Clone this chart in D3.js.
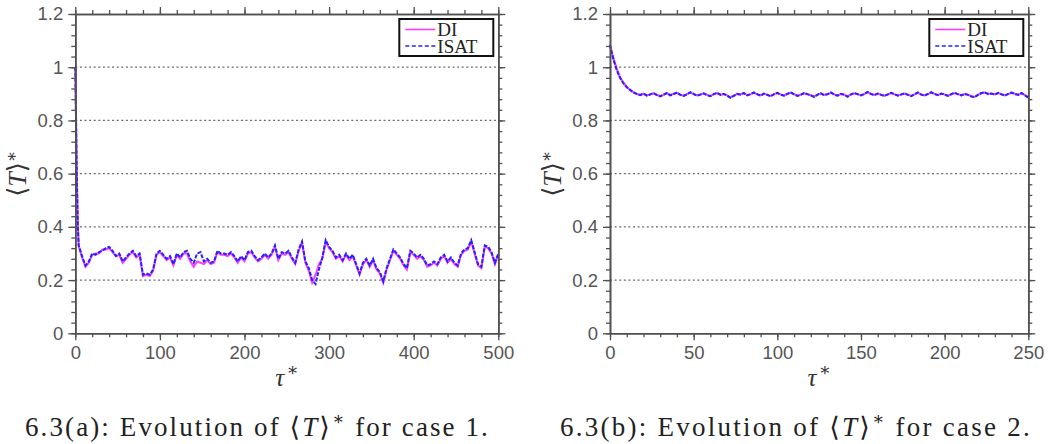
<!DOCTYPE html>
<html>
<head>
<meta charset="utf-8">
<script src="https://cdn.jsdelivr.net/npm/d3@7"></script>
<style>
  body { margin: 0; background: #fff; }
  svg { display: block; }
</style>
</head>
<body>
<div id="chart"></div>
<script>
// case 1: tau* 0..500, steep start then every 4
const tau1Start = [0, 1, 2, 3];
const tau1Step = 4;
const isat1 = [
  1.0, 0.78, 0.55, 0.40,
  0.33, 0.29, 0.255, 0.27, 0.30, 0.295, 0.305, 0.31, 0.32, 0.325,
  0.31, 0.29, 0.30, 0.27, 0.285, 0.30, 0.31, 0.29, 0.30, 0.22,
  0.225, 0.22, 0.24, 0.30, 0.31, 0.295, 0.28, 0.29, 0.26, 0.30,
  0.285, 0.305, 0.31, 0.28, 0.265, 0.30, 0.305, 0.27, 0.28, 0.265,
  0.27, 0.31, 0.30, 0.30, 0.295, 0.305, 0.29, 0.27, 0.29, 0.275,
  0.305, 0.31, 0.29, 0.275, 0.285, 0.30, 0.285, 0.30, 0.33, 0.28,
  0.305, 0.30, 0.31, 0.285, 0.265, 0.315, 0.345, 0.27, 0.245, 0.20,
  0.185, 0.24, 0.285, 0.35, 0.325, 0.31, 0.285, 0.295, 0.275, 0.30,
  0.28, 0.295, 0.26, 0.225, 0.265, 0.28, 0.255, 0.28, 0.245, 0.23,
  0.195, 0.245, 0.28, 0.315, 0.30, 0.285, 0.26, 0.245, 0.31, 0.30,
  0.285, 0.295, 0.28, 0.255, 0.26, 0.27, 0.26, 0.285, 0.295, 0.27,
  0.285, 0.265, 0.255, 0.30, 0.315, 0.32, 0.35, 0.305, 0.26, 0.25,
  0.33, 0.325, 0.305, 0.265, 0.30
];
const di1 = [
  1.0, 0.77, 0.56, 0.41,
  0.33, 0.285, 0.25, 0.265, 0.295, 0.30, 0.30, 0.315, 0.315, 0.32,
  0.305, 0.29, 0.295, 0.265, 0.28, 0.295, 0.305, 0.285, 0.295, 0.215,
  0.22, 0.215, 0.235, 0.295, 0.305, 0.29, 0.275, 0.285, 0.255, 0.295,
  0.28, 0.30, 0.30, 0.27, 0.25, 0.27, 0.265, 0.26, 0.275, 0.26,
  0.265, 0.305, 0.295, 0.295, 0.29, 0.30, 0.285, 0.265, 0.285, 0.27,
  0.30, 0.305, 0.285, 0.27, 0.28, 0.295, 0.28, 0.295, 0.325, 0.275,
  0.30, 0.295, 0.305, 0.28, 0.26, 0.31, 0.34, 0.265, 0.235, 0.19,
  0.22, 0.26, 0.28, 0.345, 0.32, 0.305, 0.28, 0.29, 0.27, 0.295,
  0.275, 0.29, 0.255, 0.22, 0.26, 0.275, 0.25, 0.275, 0.24, 0.225,
  0.19, 0.24, 0.275, 0.31, 0.295, 0.28, 0.255, 0.24, 0.305, 0.295,
  0.28, 0.29, 0.275, 0.25, 0.255, 0.265, 0.255, 0.28, 0.29, 0.265,
  0.28, 0.26, 0.25, 0.295, 0.31, 0.315, 0.345, 0.30, 0.255, 0.245,
  0.325, 0.32, 0.30, 0.26, 0.295
];

// case 2: tau* 0..250 every 2
const tau2Step = 2;
const isat2 = [
  1.085, 1.03, 0.99, 0.96, 0.94, 0.925, 0.915, 0.905, 0.90, 0.895,
  0.90, 0.893, 0.898, 0.902, 0.895, 0.89, 0.897, 0.903, 0.894, 0.899,
  0.905, 0.896, 0.892, 0.898, 0.906, 0.9, 0.893, 0.897, 0.902, 0.895,
  0.891, 0.899, 0.904, 0.896, 0.9, 0.893, 0.885, 0.892, 0.9, 0.897,
  0.903, 0.894, 0.898, 0.905, 0.899, 0.893, 0.901, 0.896, 0.89, 0.899,
  0.904, 0.897, 0.893, 0.9, 0.906, 0.898, 0.892, 0.896, 0.903, 0.899,
  0.894, 0.888, 0.897, 0.902, 0.895, 0.899, 0.905, 0.897, 0.893, 0.9,
  0.896, 0.889, 0.898, 0.903, 0.899, 0.894, 0.9, 0.907, 0.899, 0.895,
  0.901, 0.896, 0.892, 0.898, 0.904, 0.899, 0.893, 0.897, 0.902, 0.896,
  0.891, 0.899, 0.905, 0.897, 0.893, 0.9, 0.906, 0.899, 0.895, 0.901,
  0.897, 0.892, 0.899, 0.904, 0.898, 0.894, 0.9, 0.896, 0.89, 0.887,
  0.897, 0.903, 0.906, 0.899, 0.901, 0.897, 0.904, 0.898, 0.893, 0.9,
  0.905, 0.899, 0.896, 0.903, 0.894, 0.886
];
const di2 = [
  1.08, 1.035, 0.995, 0.962, 0.942, 0.926, 0.914, 0.906, 0.899, 0.897,
  0.901, 0.895, 0.897, 0.903, 0.896, 0.892, 0.896, 0.902, 0.896, 0.9,
  0.904, 0.897, 0.893, 0.899, 0.905, 0.899, 0.894, 0.898, 0.901, 0.896,
  0.892, 0.898, 0.903, 0.897, 0.899, 0.894, 0.887, 0.893, 0.899, 0.898,
  0.902, 0.895, 0.899, 0.904, 0.898, 0.894, 0.9, 0.897, 0.892, 0.898,
  0.903, 0.898, 0.894, 0.899, 0.905, 0.899, 0.893, 0.897, 0.902, 0.898,
  0.895, 0.89, 0.896, 0.901, 0.896, 0.898, 0.904, 0.898, 0.894, 0.899,
  0.897, 0.891, 0.897, 0.902, 0.898, 0.895, 0.899, 0.906, 0.9, 0.896,
  0.9, 0.897, 0.893, 0.897, 0.903, 0.898, 0.894, 0.898, 0.901, 0.897,
  0.892, 0.898, 0.904, 0.898, 0.894, 0.899, 0.905, 0.9, 0.896, 0.9,
  0.898, 0.893, 0.898, 0.903, 0.899, 0.895, 0.899, 0.897, 0.891, 0.889,
  0.896, 0.902, 0.905, 0.9, 0.9, 0.898, 0.903, 0.899, 0.894, 0.899,
  0.904, 0.9, 0.897, 0.902, 0.895, 0.888
];

const yTicks = [0, 0.2, 0.4, 0.6, 0.8, 1, 1.2];
const yGrid = [0.2, 0.4, 0.6, 0.8, 1];
const xTicks1 = [0, 100, 200, 300, 400, 500];
const xTicks2 = [0, 50, 100, 150, 200, 250];
const seriesNames = ["DI", "ISAT"];
const captions = [["6.3(a): Evolution of ", " for case 1."], ["6.3(b): Evolution of ", " for case 2."]];

const width = 1059, height = 444;
const plotTop = 14, plotBottom = 333.3;
const colorDI = "#ff3cff", colorISAT = "#2323ff", axisColor = "#505050";
const serif = "'Liberation Serif', 'DejaVu Serif', serif";

const svg = d3.select("#chart").append("svg").attr("width", width).attr("height", height)
  .style("background", "white");

const tau1 = tau1Start.concat(d3.range(tau1Step, 501, tau1Step));
const tau2 = d3.range(0, 251, tau2Step);

const panels = [
  {left: 75.3, right: 498.3, domain: [0, 500], ticks: xTicks1, minor: 20, tau: tau1, di: di1, isat: isat1, cap: captions[0], capX: 257.5, capW: 465},
  {left: 610, right: 1028.3, domain: [0, 250], ticks: xTicks2, minor: 10, tau: tau2, di: di2, isat: isat2, cap: captions[1], capX: 796, capW: 472}
];

const y = d3.scaleLinear().domain([0, 1.2]).range([plotBottom, plotTop]);

panels.forEach(p => {
  const x = d3.scaleLinear().domain(p.domain).range([p.left, p.right]);
  const g = svg.append("g");
  const minorX = d3.range(0, p.domain[1] + 0.001, p.minor);
  const minorY = d3.range(0, 1.2001, 0.04);

  // dotted grid
  g.append("g").selectAll("line").data(yGrid).join("line")
    .attr("x1", p.left).attr("x2", p.right)
    .attr("y1", d => y(d)).attr("y2", d => y(d))
    .attr("stroke", "#6a6a6a").attr("stroke-width", 1.3).attr("stroke-dasharray", "2,2.6");

  // lines
  const line = d3.line().x((d, i) => x(p.tau[i])).y(d => y(d));
  g.append("path").datum(p.di).attr("d", line)
    .attr("fill", "none").attr("stroke", colorDI).attr("stroke-width", 2);
  g.append("path").datum(p.isat).attr("d", line)
    .attr("fill", "none").attr("stroke", colorISAT).attr("stroke-width", 2).attr("stroke-dasharray", "4,1.5");

  // axes: majors with labels, minors without
  const styleAxis = sel => {
    sel.select(".domain").attr("stroke", axisColor).attr("stroke-width", 1.6);
    sel.selectAll(".tick line").attr("stroke", axisColor).attr("stroke-width", 1.3);
    sel.selectAll(".tick text").attr("fill", "#555").attr("font-size", "18.5px")
      .attr("font-family", "'Liberation Sans', Arial, sans-serif");
  };
  const fmt = d3.format("~g");
  g.append("g").attr("transform", `translate(0,${plotBottom})`)
    .call(d3.axisBottom(x).tickValues(p.ticks).tickSize(7).tickSizeOuter(0).tickPadding(6).tickFormat(fmt)).call(styleAxis);
  g.append("g").attr("transform", `translate(0,${plotBottom})`)
    .call(d3.axisBottom(x).tickValues(minorX).tickSize(4).tickSizeOuter(0).tickFormat("")).call(styleAxis);
  g.append("g").attr("transform", `translate(0,${plotTop})`)
    .call(d3.axisTop(x).tickValues(p.ticks).tickSize(7).tickSizeOuter(0).tickFormat("")).call(styleAxis);
  g.append("g").attr("transform", `translate(0,${plotTop})`)
    .call(d3.axisTop(x).tickValues(minorX).tickSize(4).tickSizeOuter(0).tickFormat("")).call(styleAxis);
  g.append("g").attr("transform", `translate(${p.left},0)`)
    .call(d3.axisLeft(y).tickValues(yTicks).tickSize(7).tickSizeOuter(0).tickPadding(5).tickFormat(fmt)).call(styleAxis);
  g.append("g").attr("transform", `translate(${p.left},0)`)
    .call(d3.axisLeft(y).tickValues(minorY).tickSize(4).tickSizeOuter(0).tickFormat("")).call(styleAxis);
  g.append("g").attr("transform", `translate(${p.right},0)`)
    .call(d3.axisRight(y).tickValues(yTicks).tickSize(7).tickSizeOuter(0).tickFormat("")).call(styleAxis);
  g.append("g").attr("transform", `translate(${p.right},0)`)
    .call(d3.axisRight(y).tickValues(minorY).tickSize(4).tickSizeOuter(0).tickFormat("")).call(styleAxis);

  // legend
  const lx = p.right - 99, ly = 19;
  const leg = g.append("g").attr("transform", `translate(${lx},${ly})`);
  leg.append("rect").attr("width", 94).attr("height", 37)
    .attr("fill", "white").attr("stroke", "#111").attr("stroke-width", 2);
  seriesNames.forEach((name, i) => {
    const yy = 10.5 + i * 16.5;
    leg.append("line").attr("x1", 6).attr("x2", 36).attr("y1", yy).attr("y2", yy)
      .attr("stroke", i === 0 ? colorDI : colorISAT).attr("stroke-width", 1.6)
      .attr("stroke-dasharray", i === 0 ? null : "4,2.5");
    leg.append("text").attr("x", 38).attr("y", yy + 6.5)
      .attr("font-family", serif).attr("font-size", "19px").attr("fill", "#222").text(name);
  });

  // x label tau*
  const xl = g.append("text").attr("x", (p.left + p.right) / 2).attr("y", 386)
    .attr("text-anchor", "middle").attr("font-family", serif).attr("font-size", "25px").attr("fill", "#333");
  xl.append("tspan").attr("font-style", "italic").text("τ");
  xl.append("tspan").attr("dy", -10).attr("dx", 2).attr("font-size", "18px").text("∗");

  // y label <T>*
  const yl = g.append("text")
    .attr("transform", `translate(${p.left - 49},${(plotTop + plotBottom) / 2}) rotate(-90)`)
    .attr("text-anchor", "middle").attr("font-family", serif).attr("font-size", "26px").attr("fill", "#333");
  yl.append("tspan").text("⟨");
  yl.append("tspan").attr("font-style", "italic").text("T");
  yl.append("tspan").text("⟩");
  yl.append("tspan").attr("dy", -9).attr("font-size", "17px").text("∗");

  // caption
  const cap = g.append("text").attr("x", p.capX).attr("y", 436)
    .attr("text-anchor", "middle").attr("font-family", serif).attr("font-size", "27px").attr("fill", "#222");
  cap.append("tspan").text(p.cap[0] + "⟨");
  cap.append("tspan").attr("font-style", "italic").text("T");
  cap.append("tspan").text("⟩");
  cap.append("tspan").attr("dy", -11).attr("font-size", "18px").text("∗");
  cap.append("tspan").attr("dy", 11).text(p.cap[1]);
  const natural = cap.node().getComputedTextLength();
  const nChars = (p.cap[0] + p.cap[1]).length + 4;
  cap.attr("letter-spacing", ((p.capW - natural) / nChars).toFixed(2) + "px");
});
</script>
</body>
</html>
